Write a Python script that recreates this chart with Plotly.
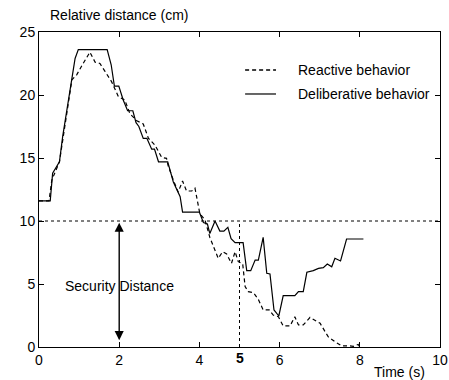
import plotly.graph_objects as go

# Deliberative behaviour (solid)
delib_t = [0, 0.28, 0.34, 0.51, 0.59, 0.9, 0.98, 1.70, 1.80, 1.88, 1.99, 2.10, 2.21, 2.34, 2.42, 2.49,
           2.6, 2.69, 2.81, 2.88, 2.98, 3.21, 3.35, 3.52, 3.58, 4.0, 4.1, 4.2, 4.26, 4.39, 4.51,
           4.61, 4.71, 4.79, 4.89, 5.09, 5.18, 5.28, 5.39, 5.47, 5.59, 5.68, 5.76, 5.86, 5.98,
           6.09, 6.38, 6.47, 6.59, 6.68, 6.84, 6.97, 7.09, 7.19, 7.30, 7.38, 7.52, 7.67, 8.09]
delib_d = [11.6, 11.6, 13.8, 14.7, 16.7, 22.9, 23.6, 23.6, 22.4, 20.7, 20.7, 19.6, 18.75, 18.75, 17.8, 17.5,
           16.56, 16.56, 15.7, 15.7, 14.7, 14.7, 13.1, 11.93, 10.7, 10.7, 9.87, 9.76, 9.0, 10.0, 9.2,
           9.2, 9.5, 8.6, 8.28, 8.28, 6.06, 6.06, 6.9, 6.9, 8.7, 5.85, 5.8, 2.94, 2.46,
           4.07, 4.07, 4.4, 4.4, 5.93, 6.06, 6.24, 6.3, 6.59, 6.37, 7.04, 6.83, 8.57, 8.57]

# Reactive behaviour (dashed)
react_t = [0, 0.25, 0.32, 0.51, 0.82, 0.94, 1.1, 1.27, 1.40, 1.52, 1.65, 1.81, 1.98, 2.14, 2.27, 2.44,
           2.6, 2.73, 2.89, 3.06, 3.18, 3.22, 3.35, 3.47, 3.58, 3.68, 3.81, 3.89, 4.01, 4.14, 4.26,
           4.39, 4.47, 4.58, 4.68, 4.8, 4.89, 4.97, 5.08, 5.14, 5.22, 5.35, 5.47, 5.59, 5.74, 5.84,
           5.97, 6.09, 6.26, 6.38, 6.47, 6.59, 6.76, 7.01, 7.21, 7.38, 7.55, 7.71, 7.84, 7.96, 8.0]
react_d = [11.6, 11.6, 13.25, 14.7, 21.2, 21.6, 22.5, 23.4, 22.6, 22.5, 21.85, 21.06, 19.87, 19.6, 18.5, 17.96,
           17.7, 16.56, 16.03, 15.05, 14.97, 14.4, 13.25, 12.3, 13.17, 12.38, 12.38, 12.6, 10.6, 10.08, 8.7,
           7.7, 7.04, 7.56, 7.38, 6.64, 7.56, 6.77, 6.59, 4.79, 4.39, 4.31, 3.78, 2.94, 2.94, 2.54,
           2.4, 1.67, 1.67, 2.4, 1.75, 1.75, 2.35, 1.88, 0.82, 0.42, 0.08, 0.1, 0.05, 0.2, 0.0]

x_ticks = [0, 2, 4, 6, 8, 10]
y_ticks = [0, 5, 10, 15, 20, 25]
security_distance = 10
marked_time = 5

FONT = "Liberation Sans, Arial, Helvetica, sans-serif"
FS = 14

fig = go.Figure()
fig.add_trace(go.Scatter(x=react_t, y=react_d, mode="lines", name="Reactive behavior",
                         line=dict(color="black", width=1.2, dash="4px,3px"), showlegend=False))
fig.add_trace(go.Scatter(x=delib_t, y=delib_d, mode="lines", name="Deliberative behavior",
                         line=dict(color="black", width=1.2), showlegend=False))

# reference lines
fig.add_shape(type="line", xref="x", yref="y", x0=0, x1=10, y0=security_distance, y1=security_distance,
              line=dict(color="black", width=1, dash="dot"))
fig.add_shape(type="line", xref="x", yref="y", x0=marked_time, x1=marked_time, y0=0, y1=security_distance,
              line=dict(color="black", width=1, dash="dot"))

# double arrow
fig.add_annotation(x=2, y=9.87, ax=2, ay=0.42, xref="x", yref="y", axref="x", ayref="y",
                   showarrow=True, arrowhead=2, startarrowhead=2, arrowside="end+start",
                   arrowwidth=1.4, arrowsize=1.3, startarrowsize=1.3, arrowcolor="black", text="")
fig.add_annotation(x=2, y=4.87, xref="x", yref="y", text="Security Distance", showarrow=False,
                   font=dict(family=FONT, size=FS, color="black"))

# legend (manual)
fig.add_shape(type="line", xref="x", yref="y", x0=5.14, x1=5.91, y0=21.98, y1=21.98,
              line=dict(color="black", width=1.5, dash="4px,3px"))
fig.add_shape(type="line", xref="x", yref="y", x0=5.14, x1=5.91, y0=20.08, y1=20.08,
              line=dict(color="black", width=1.2))
fig.add_annotation(x=6.41, y=21.98, xref="x", yref="y", text="Reactive behavior", showarrow=False,
                   xanchor="left", yanchor="middle", font=dict(family=FONT, size=FS, color="black"))
fig.add_annotation(x=6.41, y=20.08, xref="x", yref="y", text="Deliberative behavior", showarrow=False,
                   xanchor="left", yanchor="middle", font=dict(family=FONT, size=FS, color="black"))

# axis titles and bold 5
fig.add_annotation(x=10, y=0, xref="x", yref="y", text="Time (s)", showarrow=False,
                   xanchor="right", yanchor="middle", xshift=-13, yshift=-25,
                   font=dict(family=FONT, size=FS, color="black"))
fig.add_annotation(x=0, y=25, xref="x", yref="y", text="Relative distance (cm)", showarrow=False,
                   xanchor="left", yanchor="middle", xshift=9, yshift=17,
                   font=dict(family=FONT, size=FS, color="black"))
fig.add_annotation(x=marked_time, y=0, xref="x", yref="y", text="<b>5</b>", showarrow=False,
                   yanchor="middle", yshift=-11, font=dict(family=FONT, size=FS, color="black"))

fig.update_layout(
    width=449, height=380,
    margin=dict(l=39, r=9, t=32, b=33),
    paper_bgcolor="white", plot_bgcolor="white",
    font=dict(family=FONT, size=FS, color="black"),
    showlegend=False,
)
fig.update_xaxes(range=[0, 10], tickvals=x_ticks, ticks="inside", ticklen=5, tickcolor="black",
                 showline=True, linecolor="black", linewidth=1, mirror="ticks", showgrid=False,
                 zeroline=False, automargin=False, tickfont=dict(family=FONT, size=FS, color="black"))
fig.update_yaxes(range=[0, 25], tickvals=y_ticks, ticks="inside", ticklen=5, tickcolor="black",
                 showline=True, linecolor="black", linewidth=1, mirror="ticks", showgrid=False,
                 zeroline=False, automargin=False, tickfont=dict(family=FONT, size=FS, color="black"))

fig.write_html("out.html")
